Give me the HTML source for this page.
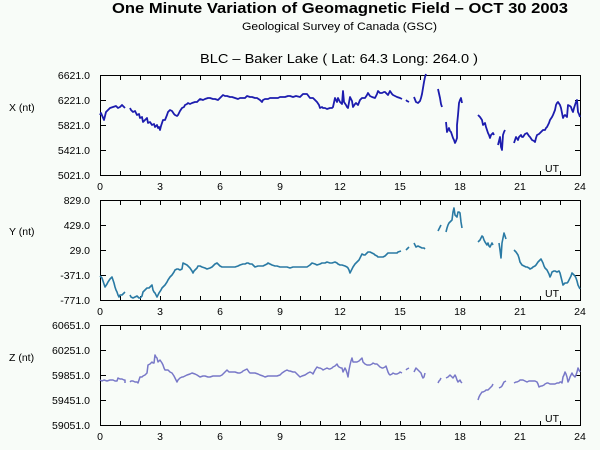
<!DOCTYPE html>
<html><head><meta charset="utf-8"><style>
html,body{margin:0;padding:0;background:#f8fcf8;}
svg{display:block;}
text{font-family:"Liberation Sans",sans-serif;fill:#000;}
</style></head><body>
<svg width="600" height="450" viewBox="0 0 600 450" xmlns="http://www.w3.org/2000/svg">
<rect width="600" height="450" fill="#f8fcf8"/>
<text x="112" y="13" font-size="14.5" font-weight="bold" textLength="456" lengthAdjust="spacingAndGlyphs">One Minute Variation of Geomagnetic Field – OCT 30 2003</text>
<text x="242" y="30" font-size="11" textLength="195" lengthAdjust="spacingAndGlyphs">Geological Survey of Canada (GSC)</text>
<text x="200" y="63" font-size="12.5" textLength="278" lengthAdjust="spacingAndGlyphs">BLC – Baker Lake ( Lat: 64.3  Long: 264.0 )</text>

<g id="axes" stroke="#000" stroke-width="1" fill="none" shape-rendering="crispEdges">
<rect x="100.5" y="75.5" width="480" height="100"/>
<rect x="100.5" y="200.5" width="480" height="100"/>
<rect x="100.5" y="325.5" width="480" height="100"/>
<path d="
M120.5 76v4M140.5 76v4M160.5 76v4M180.5 76v4M200.5 76v4M220.5 76v4M240.5 76v4M260.5 76v4M280.5 76v4M300.5 76v4M320.5 76v4M340.5 76v4M360.5 76v4M380.5 76v4M400.5 76v4M420.5 76v4M440.5 76v4M460.5 76v4M480.5 76v4M500.5 76v4M520.5 76v4M540.5 76v4M560.5 76v4
M120.5 175v-4M140.5 175v-4M160.5 175v-4M180.5 175v-4M200.5 175v-4M220.5 175v-4M240.5 175v-4M260.5 175v-4M280.5 175v-4M300.5 175v-4M320.5 175v-4M340.5 175v-4M360.5 175v-4M380.5 175v-4M400.5 175v-4M420.5 175v-4M440.5 175v-4M460.5 175v-4M480.5 175v-4M500.5 175v-4M520.5 175v-4M540.5 175v-4M560.5 175v-4
M101 100.5h5M101 125.5h5M101 150.5h5M580 100.5h-5M580 125.5h-5M580 150.5h-5
M120.5 201v4M140.5 201v4M160.5 201v4M180.5 201v4M200.5 201v4M220.5 201v4M240.5 201v4M260.5 201v4M280.5 201v4M300.5 201v4M320.5 201v4M340.5 201v4M360.5 201v4M380.5 201v4M400.5 201v4M420.5 201v4M440.5 201v4M460.5 201v4M480.5 201v4M500.5 201v4M520.5 201v4M540.5 201v4M560.5 201v4
M120.5 300v-4M140.5 300v-4M160.5 300v-4M180.5 300v-4M200.5 300v-4M220.5 300v-4M240.5 300v-4M260.5 300v-4M280.5 300v-4M300.5 300v-4M320.5 300v-4M340.5 300v-4M360.5 300v-4M380.5 300v-4M400.5 300v-4M420.5 300v-4M440.5 300v-4M460.5 300v-4M480.5 300v-4M500.5 300v-4M520.5 300v-4M540.5 300v-4M560.5 300v-4
M101 225.5h5M101 250.5h5M101 275.5h5M580 225.5h-5M580 250.5h-5M580 275.5h-5
M120.5 326v4M140.5 326v4M160.5 326v4M180.5 326v4M200.5 326v4M220.5 326v4M240.5 326v4M260.5 326v4M280.5 326v4M300.5 326v4M320.5 326v4M340.5 326v4M360.5 326v4M380.5 326v4M400.5 326v4M420.5 326v4M440.5 326v4M460.5 326v4M480.5 326v4M500.5 326v4M520.5 326v4M540.5 326v4M560.5 326v4
M120.5 425v-4M140.5 425v-4M160.5 425v-4M180.5 425v-4M200.5 425v-4M220.5 425v-4M240.5 425v-4M260.5 425v-4M280.5 425v-4M300.5 425v-4M320.5 425v-4M340.5 425v-4M360.5 425v-4M380.5 425v-4M400.5 425v-4M420.5 425v-4M440.5 425v-4M460.5 425v-4M480.5 425v-4M500.5 425v-4M520.5 425v-4M540.5 425v-4M560.5 425v-4
M101 350.5h5M101 375.5h5M101 400.5h5M580 350.5h-5M580 375.5h-5M580 400.5h-5
"/>
</g>

<g font-size="10.5" text-anchor="end">
<text x="90" y="79">6621.0</text>
<text x="90" y="104">6221.0</text>
<text x="90" y="129">5821.0</text>
<text x="90" y="154">5421.0</text>
<text x="90" y="179">5021.0</text>
<text x="90" y="204">829.0</text>
<text x="90" y="229">429.0</text>
<text x="90" y="254">29.0</text>
<text x="90" y="279">-371.0</text>
<text x="90" y="304">-771.0</text>
<text x="90" y="329">60651.0</text>
<text x="90" y="354">60251.0</text>
<text x="90" y="379">59851.0</text>
<text x="90" y="404">59451.0</text>
<text x="90" y="429">59051.0</text>
</g>
<g font-size="10.5">
<text x="9" y="111">X (nt)</text>
<text x="9" y="235">Y (nt)</text>
<text x="9" y="361">Z (nt)</text>
<text x="545" y="172">UT</text>
<text x="545" y="297">UT</text>
<text x="545" y="422">UT</text>
</g>
<g font-size="10.5" text-anchor="middle">
<text x="100" y="190">0</text><text x="160" y="190">3</text><text x="220" y="190">6</text><text x="280" y="190">9</text><text x="340" y="190">12</text><text x="400" y="190">15</text><text x="460" y="190">18</text><text x="520" y="190">21</text><text x="580" y="190">24</text>
<text x="100" y="315">0</text><text x="160" y="315">3</text><text x="220" y="315">6</text><text x="280" y="315">9</text><text x="340" y="315">12</text><text x="400" y="315">15</text><text x="460" y="315">18</text><text x="520" y="315">21</text><text x="580" y="315">24</text>
<text x="100" y="440">0</text><text x="160" y="440">3</text><text x="220" y="440">6</text><text x="280" y="440">9</text><text x="340" y="440">12</text><text x="400" y="440">15</text><text x="460" y="440">18</text><text x="520" y="440">21</text><text x="580" y="440">24</text>
</g>

<g fill="none" stroke-linejoin="round" stroke-linecap="butt">
<!-- X -->
<g stroke="#1c1cae" stroke-width="1.8">
<polyline points="100,115 101,113 104,120 106,112 110,108 113,107 116,106 118,108 120,107 122,105 125,108"/>
<polyline points="130,108 131,110 133,112 135,111 137,115 139,114 140,118 142,117 143,122 145,120 147,118 148,123 150,122 152,125 154,124 155,127 157,125 158,128 159,127 160,130 161,126 162,123 163,120 165,120 167,115 168,112 170,110 172,111 174,114 175,115 177,116 178,115 180,111 182,108 184,107 185,105 187,104 188,103 190,104 192,103 195,102 197,102 200,99 203,100 205,99 208,98 210,98 213,99 215,99 218,100 220,98 222,96 223,95 225,96 227,96 230,97 232,97 235,98 238,99 240,98 243,98 245,98 247,96 250,97 252,97 255,98 257,98 260,100 262,102 263,100 265,99 268,99 270,98 273,98 275,98 278,98 280,97 283,97 285,97 288,96 290,96 293,97 296,96 300,97 303,94 307,94 310,98 313,98 315,100 317,102 319,105 320,108 322,107 323,108 325,108 327,109 330,108 332,108 333,107 335,98 337,102 338,98 340,102 342,104 343,91 344,102 346,105 347,107 348,108 350,97 352,101 353,107 355,104 356,103 358,105 360,100 362,98 365,98 367,95 368,93 370,96 372,97 375,98 377,94 378,91 380,93 382,93 384,92 385,92 387,94 388,95 390,91 392,94 393,95 395,96 397,97 400,98 402,99"/>
<polyline points="406,100 407,101 409,102"/>
<polyline points="414,97 416,102 418,103 420,101 421,98 422,94 423,88 424,82 425,77 426,74"/>
<polyline points="438,89 440,98 441,104 442,107"/>
<polyline points="446,122 447,132 448,130 449,128 450,131 451,132 452,135 453,138 454,140 455,143 456,141 457,138 457,125 458,115 459,103 460,100 461,98 462,103"/>
<polyline points="478,115 480,117 482,120 483,125 484,124 485,123 486,127 487,130 488,133 489,135 490,138 491,135 493,133 494,135"/>
<polyline points="498,145 499,141 500,137 501,147 502,150 503,135 504,132 505,130"/>
<polyline points="514,143 515,140 516,137 518,140 519,137 521,135 522,137 523,137 525,134 527,133 529,136 530,137 532,140 534,141 535,142 536,138 537,135 539,134 540,133 542,131 543,130 545,130 546,128 547,127 549,123 550,120 552,117 553,115 555,110 556,105 557,103 558,102 560,105 561,108 562,113 563,118 564,116 565,115 567,117 568,105 570,106 571,107 572,110 573,112 574,108 575,105 576,102 577,100 578,112 579,114 580,117"/>
</g>
<!-- Y -->
<g stroke="#2a7aa4" stroke-width="1.6">
<polyline points="100,276 102,278 104,284 105,287 107,284 108,282 110,279 112,277 114,283 115,287 116,290 117,292 118,295 119,297 120,295 122,295 124,293 125,292"/>
<polyline points="130,295 131,297 133,298 135,297 137,296 139,298 140,298 141,297 142,296 143,292 145,290 147,288 149,288 150,287 151,286 152,285 153,290 154,292 155,293 156,295 157,297 158,295 159,293 161,290 162,288 164,286 165,285 167,282 168,280 170,277 172,275 174,272 175,270 177,269 178,269 180,270 182,269 183,263 185,264 187,265 189,267 190,268 192,271 193,273 194,271 195,270 197,268 198,266 200,266 202,267 205,268 207,269 210,268 212,267 214,265 215,264 217,263 219,265 220,266 222,267 223,267 226,267 230,267 233,267 235,267 238,266 240,265 243,264 245,264 247,263 248,263 250,264 252,264 254,266 255,267 258,266 260,266 263,266 265,265 267,264 268,263 270,264 272,265 275,266 277,266 280,267 282,267 285,267 287,267 290,268 293,267 297,267 300,267 303,267 307,267 310,265 312,263 315,264 317,265 320,264 322,263 325,263 327,262 330,263 332,263 335,262 337,263 338,264 340,265 342,265 345,266 347,267 348,268 349,270 350,273 352,269 353,267 355,264 357,262 359,260 360,258 361,256 362,254 364,255 365,255 367,253 368,252 370,252 372,253 374,254 375,255 377,256 378,257 380,257 383,257 385,256 388,253 390,253 393,253 395,253 397,253 398,252 401,251"/>
<polyline points="406,250 407,249 409,247"/>
<polyline points="414,243 416,247 418,246 420,247 422,248 424,248 425,249"/>
<polyline points="438,231 440,227 441,225"/>
<polyline points="446,232 447,228 448,225 449,223 450,222 451,221 452,220 453,212 454,208 455,215 456,216 457,217 458,212 459,212 460,213 461,222 462,228"/>
<polyline points="478,242 480,240 481,238 482,236 483,237 484,240 485,242 487,245 488,243 489,246 490,247 492,243 493,245"/>
<polyline points="499,243 500,250 501,258 502,243 503,238 504,233 505,236 506,239"/>
<polyline points="514,250 516,252 518,255 519,258 520,262 522,265 524,266 526,267 527,267 529,268 530,269 532,268 533,267 535,266 536,265 538,262 540,260 541,259 542,261 543,263 544,266 545,268 547,270 549,274 550,277 551,275 552,272 554,271 555,271 557,272 559,271 560,273 561,277 562,281 563,285 564,284 565,283 567,283 568,282 570,278 571,276 572,273 573,274 574,275 575,276 576,278 577,281 578,285 580,289"/>
</g>
<!-- Z -->
<g stroke="#7878c8" stroke-width="1.5">
<polyline points="100,380 102,381 104,380 107,381 110,380 113,380 115,381 117,381 118,378 120,379 122,379 124,380 125,380 125,383"/>
<polyline points="130,382 131,381 133,381 135,382 137,382 138,383 139,380 140,377 142,377 143,376 145,375 147,373 148,365 150,364 152,362 153,363 154,363 155,355 156,357 157,358 158,362 159,361 160,360 162,363 163,365 164,368 165,370 167,370 168,370 170,372 172,373 174,376 175,378 176,380 177,382 178,380 180,378 182,377 183,377 185,376 187,375 190,374 192,373 195,374 197,375 200,377 203,376 205,376 208,377 210,377 213,376 215,376 218,376 220,376 222,375 223,374 225,372 227,370 229,372 230,372 233,372 235,372 238,373 240,373 242,372 243,371 245,370 247,369 249,372 250,373 253,373 255,373 258,374 260,375 263,376 265,377 268,376 270,376 274,376 277,376 280,375 282,373 285,371 287,370 289,371 290,371 293,372 295,372 298,375 300,377 302,376 305,375 308,373 310,372 312,373 313,374 315,370 317,367 319,368 320,368 322,369 323,370 325,369 327,368 329,369 330,369 332,368 333,367 335,366 337,364 338,366 339,367 341,368 342,368 343,372 344,370 345,368 346,370 347,373 348,377 349,370 350,365 351,361 352,358 353,362 355,362 357,362 359,361 360,360 362,358 363,362 365,364 367,365 369,365 370,365 372,364 373,363 375,364 377,364 379,366 380,367 382,368 383,368 385,367 386,366 387,369 388,372 389,374 390,375 392,374 393,373 395,374 397,374 399,373 400,372 402,373"/>
<polyline points="406,370 407,369 409,368"/>
<polyline points="414,372 415,370 416,368 418,370 419,371 421,373 422,376 423,378 424,377 425,373"/>
<polyline points="438,383 439,381 440,380 441,378"/>
<polyline points="446,378 448,377 449,376 450,375 452,377 453,378 455,375 456,377 457,380 458,382 460,380 461,382 462,383"/>
<polyline points="478,400 479,397 480,395 482,392 483,392 485,391 486,390 488,390 489,389 491,387 492,386 493,384"/>
<polyline points="499,388 501,387 502,386 503,384 504,382 506,381"/>
<polyline points="514,383 516,382 517,382 519,381 520,380 522,380 523,380 525,381 527,382 529,381 530,381 532,381 533,381 535,381 537,382 538,384 539,387 541,386 542,386 544,385 545,384 547,383 548,383 550,384 553,384 555,384 557,383 559,383 560,382 561,382 562,383 563,377 564,375 565,372 566,374 567,377 568,382 569,380 570,377 571,375 572,373 573,375 575,377 576,375 577,372 578,368 579,370 580,372"/>
</g>
</g>
</svg>
</body></html>
